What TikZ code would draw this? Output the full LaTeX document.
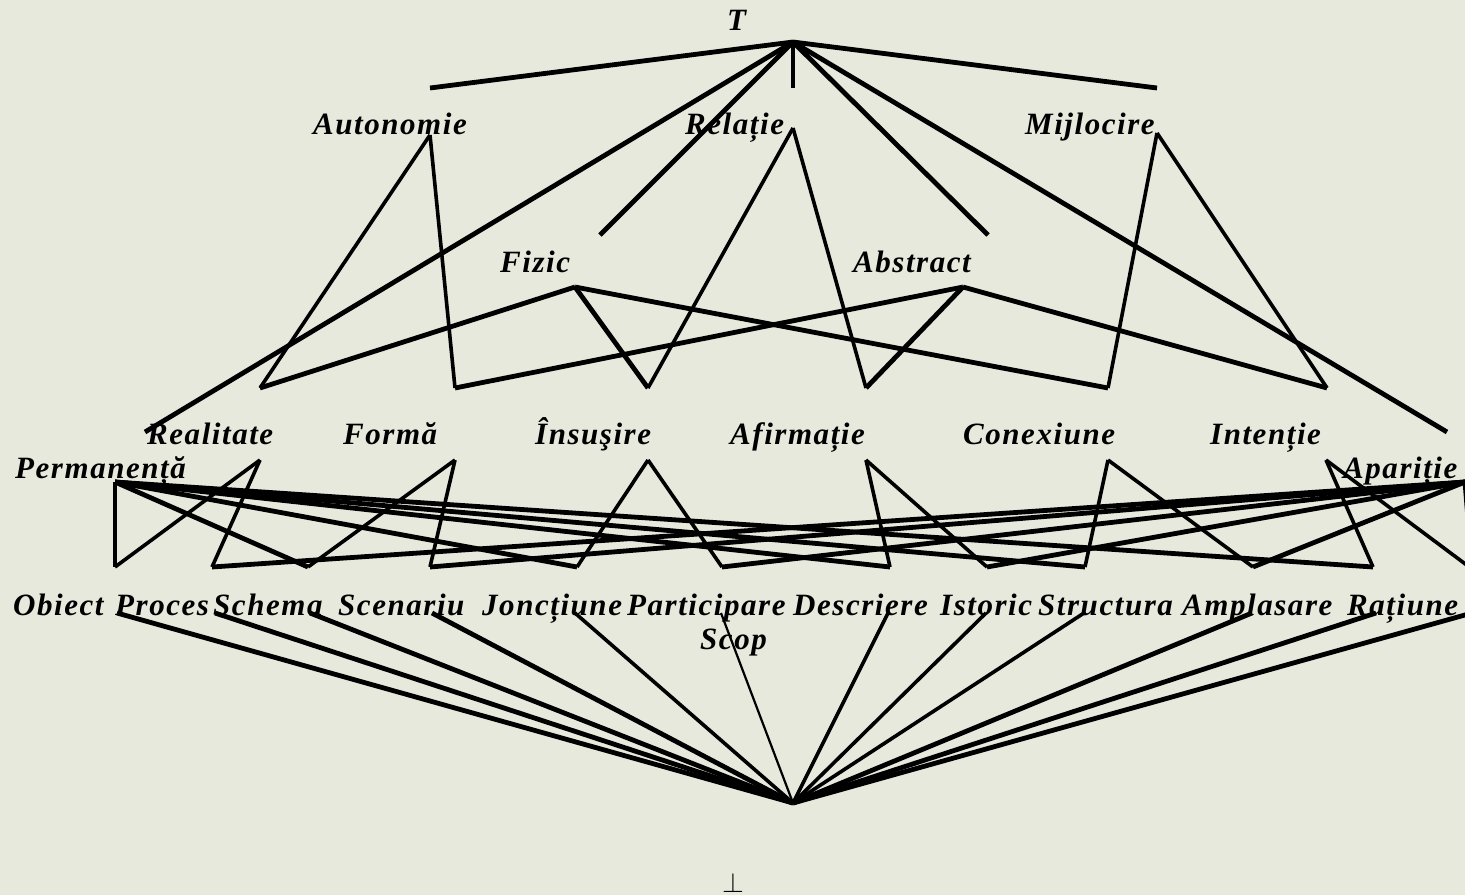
\documentclass[tikz,border=0pt]{standalone}
\usepackage{fontspec}
\setmainfont{Liberation Serif}
\newfontfamily\conceptfont{Liberation Serif}[LetterSpace=5]
\usepackage{tikz}
\usetikzlibrary{positioning}
\definecolor{paper}{RGB}{231,233,221}

\begin{document}
\begin{tikzpicture}[
    x=1pt, y=-1pt,
    concept/.style={inner sep=0pt, anchor=base west, font=\fontsize{31}{31}\conceptfont\bfseries\itshape},
    link/.style={draw=black, line width=3.6pt},
    heavy/.style={draw=black, line width=4.8pt},
    light/.style={draw=black, line width=2.2pt}
]
    \fill[paper] (0,0) rectangle (1465,895);
    \useasboundingbox (0,0) rectangle (1465,895);

    % Labels
    \node[concept] (top) at (727,30) {T};
    \node[concept] (autonomie) at (313,134) {Autonomie};
    \node[concept] (relatie) at (685,134) {Relație};
    \node[concept] (mijlocire) at (1025,134) {Mijlocire};
    \node[concept] (fizic) at (500,272) {Fizic};
    \node[concept] (abstract) at (853,272) {Abstract};
    \node[concept] (realitate) at (147,444) {Realitate};
    \node[concept] (forma) at (343,444) {Formă};
    \node[concept] (insusire) at (535,444) {Însuşire};
    \node[concept] (afirmatie) at (730,444) {Afirmație};
    \node[concept] (conexiune) at (963,444) {Conexiune};
    \node[concept] (intentie) at (1210,444) {Intenție};
    \node[concept] (permanenta) at (15,478) {Permanență};
    \node[concept] (aparitie) at (1343,478) {Apariție};
    \node[concept] (obiect) at (13,615) {Obiect};
    \node[concept] (proces) at (115,615) {Proces};
    \node[concept] (schema) at (213,615) {Schema};
    \node[concept] (scenariu) at (338,615) {Scenariu};
    \node[concept] (jonctiune) at (482,615) {Joncțiune};
    \node[concept] (participare) at (627,615) {Participare};
    \node[concept] (descriere) at (793,615) {Descriere};
    \node[concept] (istoric) at (940,615) {Istoric};
    \node[concept] (structura) at (1038,615) {Structura};
    \node[concept] (amplasare) at (1182,615) {Amplasare};
    \node[concept] (ratiune) at (1347,615) {Rațiune};
    \node[concept] (scop) at (700,649) {Scop};
    \node[inner sep=0pt, scale=2.8] (bottom) at (733,883) {$\bot$};

    % Points where the lines meet
    \coordinate (top-out) at (793,42);
    \coordinate (autonomie-in) at (430,88);   \coordinate (autonomie-out) at (430,135);
    \coordinate (relatie-in) at (793,88);     \coordinate (relatie-out) at (793,128);
    \coordinate (mijlocire-in) at (1157,88);  \coordinate (mijlocire-out) at (1157,133);
    \coordinate (fizic-in) at (600,235);      \coordinate (fizic-out) at (575,287);
    \coordinate (abstract-in) at (988,235);   \coordinate (abstract-out) at (963,287);
    \coordinate (permanenta-in) at (145,432); \coordinate (permanenta-out) at (115,482);
    \coordinate (aparitie-in) at (1447,432);  \coordinate (aparitie-out) at (1465,482);
    \coordinate (realitate-in) at (260,388);  \coordinate (realitate-out) at (260,460);
    \coordinate (forma-in) at (455,388);      \coordinate (forma-out) at (455,460);
    \coordinate (insusire-in) at (648,388);   \coordinate (insusire-out) at (648,460);
    \coordinate (afirmatie-in) at (866,388);  \coordinate (afirmatie-out) at (866,460);
    \coordinate (conexiune-in) at (1108,388); \coordinate (conexiune-out) at (1108,460);
    \coordinate (intentie-in) at (1327,388);  \coordinate (intentie-out) at (1326,460);
    \coordinate (obiect-in) at (115,567);     \coordinate (obiect-out) at (117,613);
    \coordinate (proces-in) at (212,567);     \coordinate (proces-out) at (215,613);
    \coordinate (schema-in) at (308,567);     \coordinate (schema-out) at (310,613);
    \coordinate (scenariu-in) at (430,567);   \coordinate (scenariu-out) at (432,613);
    \coordinate (jonctiune-in) at (577,567);  \coordinate (jonctiune-out) at (575,613);
    \coordinate (participare-in) at (722,567); \coordinate (participare-out) at (721,613);
    \coordinate (descriere-in) at (890,567);  \coordinate (descriere-out) at (888,613);
    \coordinate (istoric-in) at (987,567);    \coordinate (istoric-out) at (986,613);
    \coordinate (structura-in) at (1085,567); \coordinate (structura-out) at (1084,613);
    \coordinate (amplasare-in) at (1253,567); \coordinate (amplasare-out) at (1252,613);
    \coordinate (ratiune-in) at (1373,567);   \coordinate (ratiune-out) at (1376,613);
    \coordinate (scop-in) at (1472,569);      \coordinate (scop-out) at (1472,613);
    \coordinate (bottom-in) at (793,803);

    % From the top
    \draw[heavy] (top-out) -- (autonomie-in);
    \draw[heavy] (top-out) -- (relatie-in);
    \draw[heavy] (top-out) -- (mijlocire-in);
    \draw[heavy] (top-out) -- (fizic-in);
    \draw[heavy] (top-out) -- (abstract-in);
    \draw[heavy] (top-out) -- (permanenta-in);
    \draw[heavy] (top-out) -- (aparitie-in);

    % Autonomie, Relatie, Mijlocire
    \draw[link] (autonomie-out) -- (realitate-in);
    \draw[link] (autonomie-out) -- (forma-in);
    \draw[link] (relatie-out) -- (insusire-in);
    \draw[link] (relatie-out) -- (afirmatie-in);
    \draw[link] (mijlocire-out) -- (conexiune-in);
    \draw[link] (mijlocire-out) -- (intentie-in);

    % Fizic and Abstract
    \draw[heavy] (fizic-out) -- (realitate-in);
    \draw[heavy] (fizic-out) -- (insusire-in);
    \draw[heavy] (fizic-out) -- (conexiune-in);
    \draw[heavy] (abstract-out) -- (forma-in);
    \draw[heavy] (abstract-out) -- (afirmatie-in);
    \draw[heavy] (abstract-out) -- (intentie-in);

    % Middle row down to the bottom row
    \draw[link] (realitate-out) -- (obiect-in);
    \draw[link] (realitate-out) -- (proces-in);
    \draw[link] (forma-out) -- (schema-in);
    \draw[link] (forma-out) -- (scenariu-in);
    \draw[link] (insusire-out) -- (jonctiune-in);
    \draw[link] (insusire-out) -- (participare-in);
    \draw[link] (afirmatie-out) -- (descriere-in);
    \draw[link] (afirmatie-out) -- (istoric-in);
    \draw[link] (conexiune-out) -- (structura-in);
    \draw[link] (conexiune-out) -- (amplasare-in);
    \draw[link] (intentie-out) -- (ratiune-in);
    \draw[link] (intentie-out) -- (scop-in);

    % Permanenta and Aparitie
    \draw[heavy] (permanenta-out) -- (obiect-in);
    \draw[heavy] (permanenta-out) -- (schema-in);
    \draw[heavy] (permanenta-out) -- (jonctiune-in);
    \draw[heavy] (permanenta-out) -- (descriere-in);
    \draw[heavy] (permanenta-out) -- (structura-in);
    \draw[heavy] (permanenta-out) -- (ratiune-in);
    \draw[heavy] (aparitie-out) -- (proces-in);
    \draw[heavy] (aparitie-out) -- (scenariu-in);
    \draw[heavy] (aparitie-out) -- (participare-in);
    \draw[heavy] (aparitie-out) -- (istoric-in);
    \draw[heavy] (aparitie-out) -- (amplasare-in);
    \draw[heavy] (aparitie-out) -- (scop-in);

    % Down to the bottom
    \draw[heavy] (obiect-out) -- (bottom-in);
    \draw[heavy] (proces-out) -- (bottom-in);
    \draw[heavy] (schema-out) -- (bottom-in);
    \draw[heavy] (scenariu-out) -- (bottom-in);
    \draw[link] (jonctiune-out) -- (bottom-in);
    \draw[light] (participare-out) -- (bottom-in);
    \draw[link] (descriere-out) -- (bottom-in);
    \draw[link] (istoric-out) -- (bottom-in);
    \draw[link] (structura-out) -- (bottom-in);
    \draw[heavy] (amplasare-out) -- (bottom-in);
    \draw[heavy] (ratiune-out) -- (bottom-in);
    \draw[heavy] (scop-out) -- (bottom-in);
\end{tikzpicture}
\end{document}
